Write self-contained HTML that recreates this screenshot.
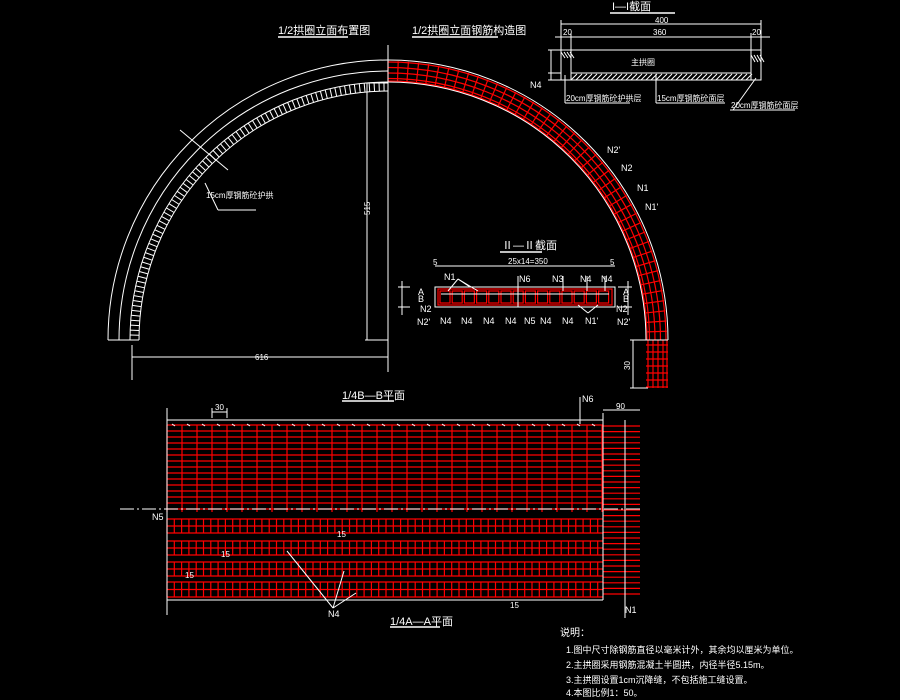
<!DOCTYPE html>
<html><head><meta charset="utf-8"><style>
html,body{margin:0;padding:0;background:#000;width:900px;height:700px;overflow:hidden}
svg{display:block}
text{font-family:"Liberation Sans","Noto Sans CJK SC",sans-serif;fill:#fff}
</style></head><body>
<svg id="s" width="900" height="700" viewBox="0 0 900 700" xmlns="http://www.w3.org/2000/svg">
<rect width="900" height="700" fill="#000"/>
<g id="red" stroke="#f00" stroke-width="1.2" fill="none"></g>
<g id="wht" stroke="#fff" stroke-width="1" fill="none">
<path d="M108,340 A280,280 0 0 1 388,60"/>
<path d="M119,340 A269,269 0 0 1 388,71"/>
<path d="M130,340 A258,258 0 0 1 388,82"/>
<path d="M139,340 A249,249 0 0 1 388,91"/>
<line x1="108" y1="340" x2="139" y2="340"/>
<line x1="388" y1="45" x2="388" y2="372"/>
<line x1="132" y1="357" x2="388" y2="357"/>
<line x1="132" y1="345" x2="132" y2="380"/>
<line x1="367" y1="83" x2="367" y2="340"/>
<line x1="365" y1="340" x2="388" y2="340"/>
<line x1="365" y1="83" x2="388" y2="83"/>
<path d="M388,60 A280,280 0 0 1 668,340"/>
<path d="M388,82 A258,258 0 0 1 646,340"/>
<line x1="646" y1="340" x2="668" y2="340"/>
<line x1="633" y1="340" x2="633" y2="388"/>
<line x1="630" y1="340" x2="646" y2="340"/>
<line x1="630" y1="388" x2="648" y2="388"/>
<rect x="561" y="50" width="200" height="30"/>
<line x1="571" y1="73" x2="751" y2="73"/>
<line x1="571" y1="50" x2="571" y2="80"/><line x1="751" y1="50" x2="751" y2="80"/>
<line x1="561" y1="24" x2="761" y2="24"/>
<line x1="561" y1="20" x2="561" y2="50"/><line x1="761" y1="20" x2="761" y2="50"/>
<line x1="555" y1="37" x2="770" y2="37"/>
<line x1="571" y1="33" x2="571" y2="50"/><line x1="751" y1="33" x2="751" y2="50"/>
<line x1="551" y1="50" x2="551" y2="80"/>
<line x1="548" y1="50" x2="561" y2="50"/><line x1="548" y1="73" x2="561" y2="73"/><line x1="548" y1="80" x2="561" y2="80"/>
<line x1="565" y1="75" x2="565" y2="103"/><line x1="565" y1="103" x2="630" y2="103"/>
<line x1="656" y1="74" x2="656" y2="103"/><line x1="656" y1="103" x2="725" y2="103"/>
<line x1="756" y1="78" x2="733" y2="110"/><line x1="730" y1="110" x2="795" y2="110"/>
<line x1="610" y1="13" x2="675" y2="13" stroke-width="1.5"/>
<line x1="278" y1="37" x2="348" y2="37" stroke-width="1.5"/>
<line x1="412" y1="37" x2="498" y2="37" stroke-width="1.5"/>
<line x1="500" y1="252" x2="542" y2="252" stroke-width="1.5"/>
<line x1="342" y1="401" x2="394" y2="401" stroke-width="1.5"/>
<line x1="390" y1="627" x2="440" y2="627" stroke-width="1.5"/>
<line x1="205" y1="183" x2="218" y2="210"/><line x1="218" y1="210" x2="256" y2="210"/>
<line x1="180" y1="130" x2="228" y2="170"/>
<rect x="435" y="287" width="180" height="20"/>
<line x1="435" y1="266" x2="615" y2="266"/>
<line x1="402" y1="281" x2="402" y2="315"/><line x1="628" y1="281" x2="628" y2="315"/>
<line x1="398" y1="287" x2="410" y2="287"/><line x1="398" y1="307" x2="410" y2="307"/>
<line x1="618" y1="287" x2="632" y2="287"/><line x1="618" y1="307" x2="632" y2="307"/>
<line x1="458" y1="279" x2="478" y2="291"/><line x1="458" y1="279" x2="448" y2="291"/><line x1="458" y1="279" x2="470" y2="287"/>
<line x1="518" y1="276" x2="518" y2="307"/>
<line x1="563" y1="276" x2="563" y2="291"/>
<line x1="587" y1="276" x2="587" y2="291"/><line x1="605" y1="276" x2="605" y2="291"/>
<line x1="588" y1="313" x2="578" y2="305"/><line x1="588" y1="313" x2="598" y2="305"/>
<line x1="167" y1="408" x2="167" y2="615"/>
<line x1="167" y1="420" x2="603" y2="420"/>
<line x1="167" y1="600" x2="603" y2="600"/>
<line x1="603" y1="413" x2="603" y2="600"/>
<line x1="625" y1="420" x2="625" y2="618"/>
<line x1="603" y1="410" x2="640" y2="410"/>
<line x1="212" y1="412" x2="227" y2="412"/><line x1="212" y1="408" x2="212" y2="418"/><line x1="227" y1="408" x2="227" y2="418"/>
<line x1="580" y1="397" x2="580" y2="424"/>
<line x1="287" y1="551" x2="333" y2="608"/><line x1="344" y1="571" x2="333" y2="608"/><line x1="356" y1="593" x2="333" y2="608"/>
<line x1="120" y1="509" x2="640" y2="509" stroke-dasharray="14,3,2,3"/>
</g>
<g font-size="10">
<text x="278" y="34" font-size="11">1/2拱圈立面布置图</text>
<text x="412" y="34" font-size="11">1/2拱圈立面钢筋构造图</text>
<text x="612" y="10" font-size="11">I—I截面</text>
<text x="655" y="23" font-size="8">400</text>
<text x="653" y="35" font-size="8">360</text>
<text x="563" y="35" font-size="8">20</text><text x="752" y="35" font-size="8">20</text>
<text x="631" y="65" font-size="8">主拱圈</text>
<text x="566" y="101" font-size="8">20cm厚钢筋砼护拱层</text>
<text x="657" y="101" font-size="8">15cm厚钢筋砼面层</text>
<text x="731" y="108" font-size="8">20cm厚钢筋砼面层</text>
<text x="206" y="198" font-size="8">15cm厚钢筋砼护拱</text>
<text x="255" y="360" font-size="8">616</text>
<text x="530" y="88" font-size="9">N4</text>
<text x="607" y="153" font-size="9">N2'</text>
<text x="621" y="171" font-size="9">N2</text>
<text x="637" y="191" font-size="9">N1</text>
<text x="645" y="210" font-size="9">N1'</text>
<text x="502" y="249" font-size="11">Ⅱ—Ⅱ截面</text>
<text x="508" y="264" font-size="8">25x14=350</text>
<text x="433" y="265" font-size="8">5</text><text x="610" y="265" font-size="8">5</text>
<text x="444" y="280" font-size="9">N1</text>
<text x="519" y="282" font-size="9">N6</text>
<text x="552" y="282" font-size="9">N3</text>
<text x="580" y="282" font-size="9">N4</text>
<text x="601" y="282" font-size="9">N4</text>
<text x="418" y="295" font-size="9">A</text><text x="418" y="302" font-size="9">B</text>
<text x="623" y="295" font-size="9">A</text><text x="623" y="302" font-size="9">B</text>
<text x="420" y="312" font-size="9">N2</text><text x="417" y="325" font-size="9">N2'</text>
<text x="616" y="312" font-size="9">N2</text><text x="617" y="325" font-size="9">N2'</text>
<text x="440" y="324" font-size="9">N4</text><text x="461" y="324" font-size="9">N4</text>
<text x="483" y="324" font-size="9">N4</text><text x="505" y="324" font-size="9">N4</text>
<text x="524" y="324" font-size="9">N5</text><text x="540" y="324" font-size="9">N4</text>
<text x="562" y="324" font-size="9">N4</text><text x="585" y="324" font-size="9">N1'</text>
<text x="342" y="399" font-size="11">1/4B—B平面</text>
<text x="215" y="410" font-size="8">30</text>
<text x="582" y="402" font-size="9">N6</text>
<text x="616" y="409" font-size="8">90</text>
<text x="152" y="520" font-size="9">N5</text>
<text x="337" y="537" font-size="8">15</text>
<text x="221" y="557" font-size="8">15</text>
<text x="185" y="578" font-size="8">15</text>
<text x="510" y="608" font-size="8">15</text>
<text x="328" y="617" font-size="9">N4</text>
<text x="625" y="613" font-size="9">N1</text>
<text x="390" y="625" font-size="11">1/4A—A平面</text>
<text x="560" y="636" font-size="10">说明：</text>
<text x="566" y="653" font-size="9">1.图中尺寸除钢筋直径以毫米计外，其余均以厘米为单位。</text>
<text x="566" y="668" font-size="9">2.主拱圈采用钢筋混凝土半圆拱，内径半径5.15m。</text>
<text x="566" y="683" font-size="9">3.主拱圈设置1cm沉降缝，不包括施工缝设置。</text>
<text x="566" y="696" font-size="9">4.本图比例1：50。</text>
<text x="370" y="215" font-size="8" transform="rotate(-90 370 215)">515</text>
<text x="630" y="370" font-size="8" transform="rotate(-90 630 370)">30</text>
</g>
<script>
var NS="http://www.w3.org/2000/svg",R=document.getElementById("red"),W=document.getElementById("wht");
function L(g,a,b,c,d,col){var l=document.createElementNS(NS,"line");l.setAttribute("x1",a);l.setAttribute("y1",b);l.setAttribute("x2",c);l.setAttribute("y2",d);if(col)l.setAttribute("stroke",col);g.appendChild(l);}
function P(g,d){var p=document.createElementNS(NS,"path");p.setAttribute("d",d);g.appendChild(p);}
var cx=388,cy=340;
for(var a=0;a<=90;a+=1.1){var t=a*Math.PI/180;L(W,cx-249*Math.cos(t),cy-249*Math.sin(t),cx-258*Math.cos(t),cy-258*Math.sin(t));}
[278,272.5,267,261.5,259].forEach(function(r){P(R,"M"+cx+","+(cy-r)+" A"+r+","+r+" 0 0 1 "+(cx+r)+","+cy);});
for(var a=0;a<=90;a+=2.1){var t=a*Math.PI/180;L(R,cx+259*Math.sin(t),cy-259*Math.cos(t),cx+279*Math.sin(t),cy-279*Math.cos(t));}
[648,653,658,663,667].forEach(function(x){L(R,x,340,x,388);});
for(var y=345;y<=388;y+=7)L(R,646,y,668,y);
for(var y=425;y<=512;y+=6)L(R,167,y,603,y);
for(var x=167;x<=603;x+=15)L(R,x,425,x,512);
for(var x=172;x<=600;x+=15)L(W,x,424,x+3,426);
[[519,533],[541,555],[562,576],[582,597]].forEach(function(b){L(R,167,b[0],603,b[0]);L(R,167,(b[0]+b[1])/2,603,(b[0]+b[1])/2);L(R,167,b[1],603,b[1]);for(var x=167;x<=603;x+=7.3)L(R,x,b[0],x,b[1]);});
for(var y=426;y<=598;y+=5.6)L(R,603,y,640,y);
var rr=document.createElementNS(NS,"rect");rr.setAttribute("x",438);rr.setAttribute("y",289);rr.setAttribute("width",174);rr.setAttribute("height",16);R.appendChild(rr);
for(var i=0;i<14;i++){var x=440+i*12.2;var r2=document.createElementNS(NS,"rect");r2.setAttribute("x",x);r2.setAttribute("y",291);r2.setAttribute("width",10);r2.setAttribute("height",12);R.appendChild(r2);}
L(W,441,294,609,294);
for(var x=561;x<=571;x+=3)L(W,x,52,x+4,58);
for(var x=571;x<751;x+=5)L(W,x,80,x+6,74);
for(var x=751;x<=761;x+=3)L(W,x,55,x+4,62);
</script>
</svg>
</body></html>
